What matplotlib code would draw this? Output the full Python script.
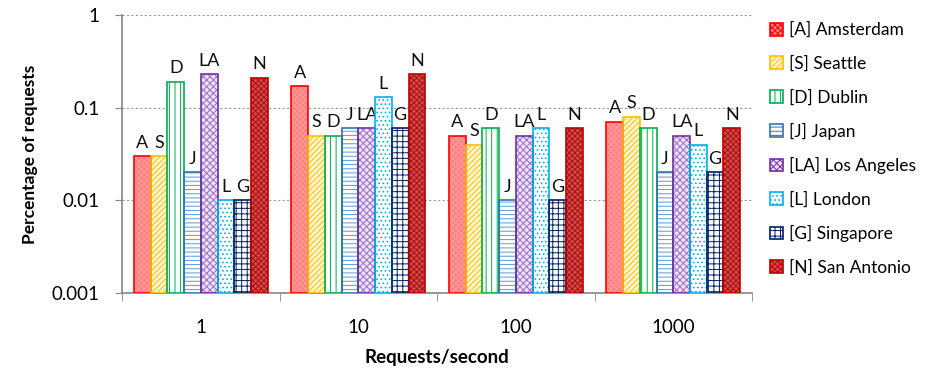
import matplotlib
matplotlib.use("Agg")
import matplotlib.pyplot as plt
import numpy as np
from matplotlib.patches import Patch

plt.rcParams['font.family'] = ['Lato', 'DejaVu Sans']
plt.rcParams['hatch.linewidth'] = 0.7

categories = ["1", "10", "100", "1000"]
series_names = ["[A] Amsterdam", "[S] Seattle", "[D] Dublin", "[J] Japan",
                "[LA] Los Angeles", "[L] London", "[G] Singapore", "[N] San Antonio"]
short = ["A", "S", "D", "J", "LA", "L", "G", "N"]

amsterdam  = [0.03, 0.17, 0.05, 0.07]
seattle    = [0.03, 0.05, 0.04, 0.08]
dublin     = [0.19, 0.05, 0.06, 0.06]
japan      = [0.02, 0.06, 0.01, 0.02]
losangeles = [0.23, 0.06, 0.05, 0.05]
london     = [0.01, 0.13, 0.06, 0.04]
singapore  = [0.01, 0.06, 0.01, 0.02]
sanantonio = [0.21, 0.23, 0.06, 0.06]
values = [amsterdam, seattle, dublin, japan, losangeles, london, singapore, sanantonio]

BASE = 0.001

# style: (face, hatch, hatch color, edge color)
styles = [
    ("#FF8080", "xxxxxx", "#FF9C9C", "#FF0000"),
    ("#FFF4D0", "//////", "#FFC000", "#FFC000"),
    ("#FFFFFF", "|||", "#00B050", "#00B050"),
    ("#FFFFFF", "----", "#5B9BD5", "#2E75B6"),
    ("#EDE3F7", "xxxxx", "#9A6CC8", "#7030A0"),
    ("#FFFFFF", "....", "#00B0F0", "#00B0F0"),
    ("#FFFFFF", "+++", "#002060", "#002060"),
    ("#D44A4A", "xxxxxx", "#A81010", "#C00000"),
]

fig = plt.figure(figsize=(9.25, 3.74), dpi=100)
ax = fig.add_axes([0.132, 0.2166, 0.681, 0.7434])

n = len(values)
group_frac = 0.85
w = group_frac / n
x0 = np.arange(len(categories)) + 0.5

for i, (vals, st) in enumerate(zip(values, styles)):
    face, hatch, hcol, ecol = st
    xs = x0 - group_frac / 2 + w * (i + 0.5)
    heights = np.array(vals) - BASE
    ax.bar(xs, heights, width=w, bottom=BASE, facecolor=face, hatch=hatch,
           edgecolor=hcol, linewidth=0, zorder=3)
    ax.bar(xs, heights, width=w, bottom=BASE, facecolor="none",
           edgecolor=ecol, linewidth=1.2, zorder=4)
    for xx, v in zip(xs, vals):
        ax.annotate(short[i], (xx, v), xytext=(0, 4), textcoords="offset points",
                    ha="center", va="bottom", fontsize=13, color="#111111")

ax.set_yscale("log")
ax.set_ylim(0.001, 1)
ax.set_xlim(0, 4)
ax.set_yticks([0.001, 0.01, 0.1, 1])
ax.set_yticklabels(["0.001", "0.01", "0.1", "1"])
ax.yaxis.set_minor_locator(matplotlib.ticker.NullLocator())
ax.set_xticks(x0)
ax.set_xticklabels(categories)
ax.set_xticks(np.arange(0, 5), minor=True)
ax.tick_params(axis="x", which="major", length=0, pad=19, labelsize=13.5)
ax.tick_params(axis="x", which="minor", length=6, color="#868686", direction="out")
ax.tick_params(axis="y", which="major", length=5, color="#868686", labelsize=13.5, pad=11)
ax.grid(axis="y", which="major", color="#9A9A9A", linestyle=(0, (2, 2)), linewidth=0.8, zorder=0)
ax.set_axisbelow(True)
for s in ["top", "right"]:
    ax.spines[s].set_visible(False)
for s in ["left", "bottom"]:
    ax.spines[s].set_color("#868686")
    ax.spines[s].set_linewidth(1.2)

ax.set_ylabel("Percentage of requests", fontsize=12.5, fontweight="bold", labelpad=10)
ax.set_xlabel("Requests/second", fontsize=13.5, fontweight="bold", labelpad=9)

handles = []
for st in styles:
    face, hatch, hcol, ecol = st
    handles.append(Patch(facecolor=face, hatch=hatch, edgecolor=ecol, linewidth=1.2))
leg = fig.legend(handles, series_names, loc="upper left", bbox_to_anchor=(0.816, 0.983),
                 frameon=False, fontsize=12.5, handlelength=0.75, handleheight=0.75,
                 labelspacing=1.0, handletextpad=0.3)

fig.savefig("out.png", dpi=100)
